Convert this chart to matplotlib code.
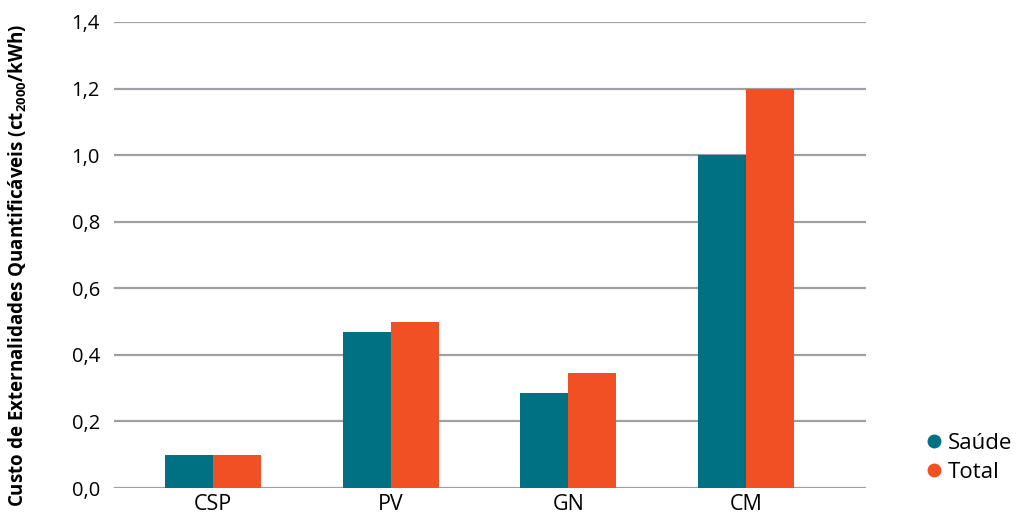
import numpy as np
import matplotlib.pyplot as plt
from matplotlib.lines import Line2D

# dados
categorias = ["CSP", "PV", "GN", "CM"]
saude = [0.10, 0.47, 0.285, 1.0]
total = [0.10, 0.50, 0.345, 1.2]
yticks = [0.0, 0.2, 0.4, 0.6, 0.8, 1.0, 1.2, 1.4]

cor_saude = "#007083"
cor_total = "#F15025"

plt.rcParams['font.family'] = ['Open Sans', 'DejaVu Sans']
plt.rcParams['mathtext.default'] = 'regular'

fig = plt.figure(figsize=(10.17, 5.2), dpi=100)
ax = fig.add_axes([0.112, 0.0615, 0.7395, 0.8962])

x = np.arange(len(categorias))
w = 0.27
ax.bar(x - w/2, saude, w, color=cor_saude, zorder=3)
ax.bar(x + w/2, total, w, color=cor_total, zorder=3)

ax.set_xlim(-0.557, 3.675)
ax.set_ylim(0, 1.4)
ax.set_yticks(yticks)
ax.set_yticklabels([("%.1f" % v).replace(".", ",") for v in yticks], fontsize=14.5)
ax.set_xticks(x)
ax.set_xticklabels(categorias, fontsize=15.5)
ax.tick_params(length=0, pad=10)
ax.tick_params(axis='x', pad=4)
for s in ax.spines.values():
    s.set_visible(False)
ax.grid(axis='y', color="#A0A0A4", linewidth=1.6, zorder=0)
ax.set_axisbelow(True)

fig.text(0.018, 0.49, r'Custo de Externalidades Quantificáveis (ct$_{2000}$/kWh)',
         rotation=90, va='center', ha='center', fontsize=13.5, fontweight='bold')

handles = [Line2D([], [], marker='o', linestyle='none', color=cor_saude, markersize=9),
           Line2D([], [], marker='o', linestyle='none', color=cor_total, markersize=9)]
fig.legend(handles, ["Saúde", "Total"], loc='center left', bbox_to_anchor=(0.897, 0.119),
           frameon=False, fontsize=16, handletextpad=0.1, labelspacing=0.35,
           borderpad=0, handlelength=1.0)

fig.savefig("out.png", dpi=100)
